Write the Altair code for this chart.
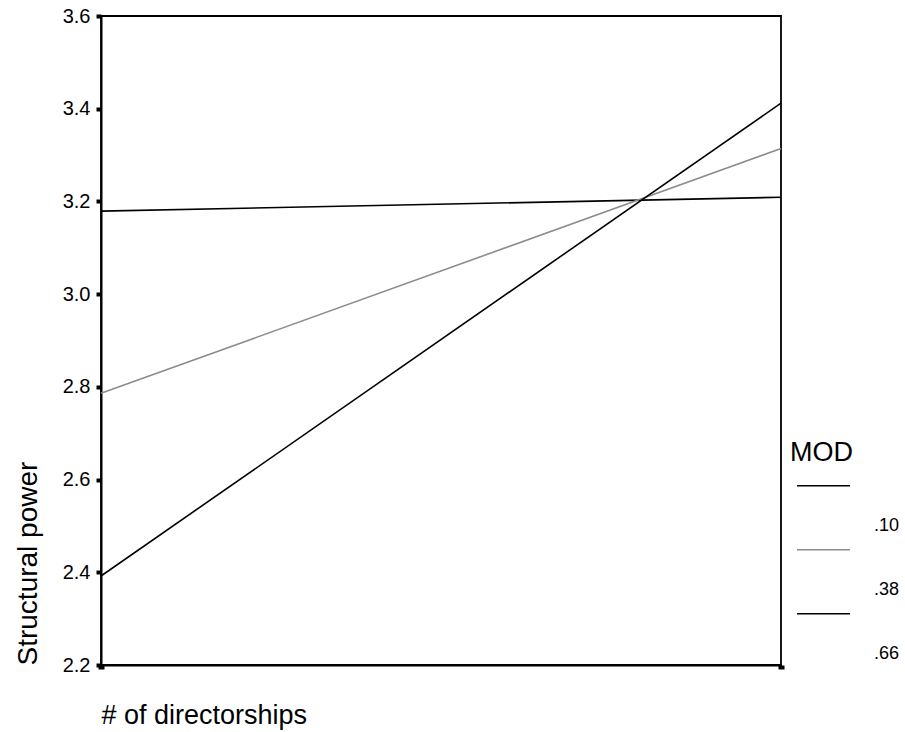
import altair as alt
import pandas as pd

# Simple-slopes plot: structural power against # of directorships at three MOD levels
directorships = [-1.0, 1.0]                # low / high number of directorships
mod_levels = [".10", ".38", ".66"]
power_mod_10 = [3.179, 3.209]
power_mod_38 = [2.786, 3.314]
power_mod_66 = [2.392, 3.412]
y_ticks = [2.2, 2.4, 2.6, 2.8, 3.0, 3.2, 3.4, 3.6]
line_colors = ["#000000", "#8c8c8c", "#000000"]

rows = []
for mod, series in zip(mod_levels, [power_mod_10, power_mod_38, power_mod_66]):
    for x, y in zip(directorships, series):
        rows.append({"directorships": x, "power": y, "MOD": mod})
df = pd.DataFrame(rows)

FONT = "Liberation Sans"

chart = (
    alt.Chart(df)
    .mark_line(strokeWidth=1.6)
    .encode(
        x=alt.X(
            "directorships:Q",
            scale=alt.Scale(domain=[directorships[0], directorships[-1]], nice=False, zero=False),
            axis=alt.Axis(
                title="# of directorships",
                labels=False,
                values=directorships,
                tickSize=4,
                tickWidth=6,
                titleAnchor="start",
                titlePadding=30,
                titleFontSize=27,
            ),
        ),
        y=alt.Y(
            "power:Q",
            scale=alt.Scale(domain=[y_ticks[0], y_ticks[-1]], nice=False, zero=False),
            axis=alt.Axis(
                title="Structural power",
                values=y_ticks,
                format=".1f",
                tickSize=5,
                tickWidth=4,
                labelPadding=6,
                labelFontSize=20,
                titleAnchor="start",
                titlePadding=20,
                titleFontSize=28,
            ),
        ),
        color=alt.Color(
            "MOD:N",
            scale=alt.Scale(domain=mod_levels, range=line_colors),
            legend=alt.Legend(
                title="MOD",
                orient="none",
                legendX=689,
                legendY=424,
                direction="vertical",
                symbolType="M-1,-1.5H1",
                symbolSize=2809,
                symbolStrokeWidth=1.5,
                symbolOffset=6,
                labelOffset=23,
                labelFont=FONT,
                labelFontSize=18,
                labelColor="black",
                titleFont=FONT,
                titleFontSize=27,
                titleFontWeight="normal",
                titleColor="black",
                titlePadding=31,
                rowPadding=11,
                padding=0,
            ),
        ),
    )
    .properties(
        width=680,
        height=649,
        autosize=alt.AutoSizeParams(type="none"),
        padding={"left": 101, "top": 16, "right": 124, "bottom": 67},
        background="white",
    )
    .configure_axis(
        grid=False,
        domainColor="black",
        domainWidth=2,
        tickColor="black",
        labelFont=FONT,
        labelColor="black",
        titleFont=FONT,
        titleFontWeight="normal",
        titleColor="black",
    )
    .configure_view(stroke="black", strokeWidth=1.8)
)

chart.save("out.html", embed_options={"renderer": "svg", "actions": False})
